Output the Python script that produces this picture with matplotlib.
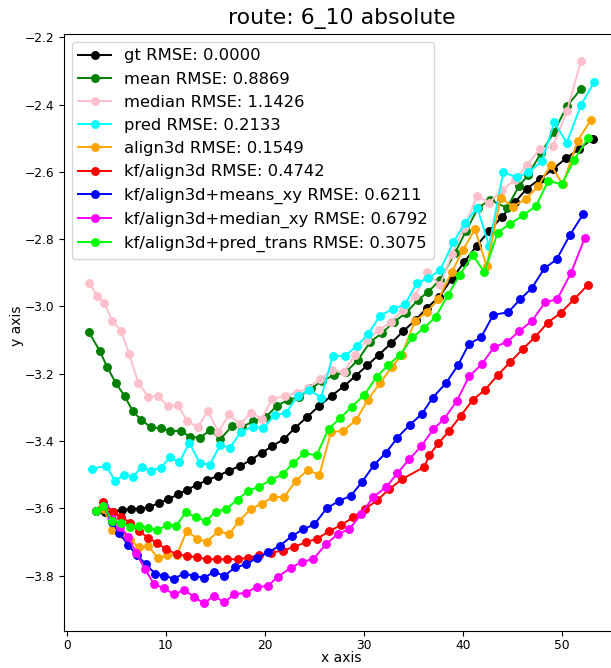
import matplotlib
matplotlib.use("Agg")
import matplotlib.pyplot as plt

names = ["gt", "mean", "median", "pred", "align3d", "kf/align3d",
         "kf/align3d+means_xy", "kf/align3d+median_xy", "kf/align3d+pred_trans"]
rmse = [0.0000, 0.8869, 1.1426, 0.2133, 0.1549, 0.4742, 0.6211, 0.6792, 0.3075]
colors = ["black", "green", "pink", "cyan", "orange", "red", "blue", "magenta", "lime"]

gt_x = [2.96, 3.87, 4.65, 5.56, 6.49, 7.40, 8.34, 9.29, 10.26, 11.21, 12.15, 13.19, 14.14, 15.31, 16.42,
        17.51, 18.59, 19.70, 20.77, 21.95, 23.06, 24.30, 25.52, 26.77, 28.01, 29.19, 30.36, 31.55, 32.79,
        34.00, 35.25, 36.36, 37.64, 38.89, 40.16, 41.41, 42.66, 43.94, 45.28, 46.46, 47.81, 49.09, 50.43,
        51.78, 53.13]
gt_y = [-3.607, -3.610, -3.610, -3.605, -3.602, -3.601, -3.597, -3.584, -3.573, -3.559, -3.545, -3.530,
        -3.517, -3.503, -3.488, -3.474, -3.457, -3.435, -3.415, -3.394, -3.361, -3.328, -3.295, -3.265,
        -3.237, -3.206, -3.175, -3.143, -3.109, -3.073, -3.040, -3.005, -2.971, -2.918, -2.868, -2.819,
        -2.776, -2.734, -2.690, -2.650, -2.621, -2.592, -2.560, -2.531, -2.501]

mean_x = [2.25, 3.33, 4.10, 4.95, 5.86, 6.67, 7.54, 8.52, 9.49, 10.46, 11.52, 12.48, 13.49, 14.51, 15.52,
          16.67, 17.68, 18.85, 20.13, 21.21, 22.35, 23.46, 24.68, 25.79, 27.00, 28.21, 29.42, 30.64, 31.85,
          33.06, 34.27, 35.48, 36.49, 37.71, 39.22, 40.33, 41.55, 42.76, 44.47, 45.69, 46.60, 47.91, 49.22,
          50.54, 51.95]
mean_y = [-3.077, -3.132, -3.181, -3.227, -3.267, -3.311, -3.338, -3.359, -3.362, -3.370, -3.370, -3.388,
          -3.390, -3.367, -3.395, -3.356, -3.358, -3.342, -3.328, -3.296, -3.278, -3.269, -3.243, -3.222,
          -3.204, -3.195, -3.159, -3.106, -3.079, -3.046, -3.019, -2.981, -2.957, -2.921, -2.841, -2.776,
          -2.707, -2.683, -2.707, -2.642, -2.609, -2.544, -2.481, -2.404, -2.353]

median_x = [2.25, 3.09, 3.80, 4.61, 5.49, 6.32, 7.23, 8.21, 9.19, 10.20, 11.21, 12.18, 13.23, 14.27, 15.31,
            16.42, 17.51, 18.62, 19.70, 20.74, 22.05, 23.26, 24.37, 25.59, 26.80, 28.01, 29.12, 30.33, 31.55,
            32.76, 33.97, 35.18, 36.39, 37.70, 38.92, 40.13, 41.44, 42.66, 43.97, 45.28, 46.49, 47.81, 49.12,
            50.53, 51.95]
median_y = [-2.931, -2.968, -2.991, -3.043, -3.072, -3.142, -3.227, -3.268, -3.266, -3.296, -3.293, -3.341,
            -3.359, -3.311, -3.373, -3.321, -3.350, -3.316, -3.334, -3.275, -3.266, -3.257, -3.243, -3.216,
            -3.189, -3.195, -3.144, -3.100, -3.070, -3.046, -3.011, -2.969, -2.898, -2.936, -2.844, -2.767,
            -2.671, -2.692, -2.654, -2.624, -2.579, -2.532, -2.523, -2.419, -2.270]

pred_x = [2.53, 3.97, 4.88, 5.79, 6.67, 7.58, 8.48, 9.49, 10.43, 11.37, 12.38, 13.46, 14.47, 15.48, 16.49,
          17.61, 18.79, 19.86, 21.04, 22.15, 23.33, 24.51, 25.69, 26.87, 28.11, 29.29, 30.46, 31.65, 32.93,
          34.17, 35.35, 36.53, 37.71, 39.05, 40.23, 41.47, 42.66, 44.10, 45.45, 46.63, 47.98, 49.25, 50.51,
          51.95, 53.29]
pred_y = [-3.483, -3.474, -3.518, -3.501, -3.506, -3.478, -3.488, -3.480, -3.449, -3.463, -3.406, -3.466,
          -3.470, -3.412, -3.420, -3.372, -3.358, -3.361, -3.323, -3.316, -3.266, -3.248, -3.271, -3.147,
          -3.147, -3.118, -3.082, -3.027, -3.008, -2.994, -2.931, -2.916, -2.892, -2.809, -2.753, -2.706,
          -2.820, -2.601, -2.616, -2.601, -2.569, -2.453, -2.513, -2.401, -2.332]

align_x = [2.96, 3.77, 4.61, 5.56, 6.39, 7.30, 8.24, 9.25, 10.16, 11.11, 12.12, 13.19, 14.14, 15.31, 16.42,
           17.43, 18.59, 19.70, 20.84, 21.98, 23.16, 24.34, 25.52, 26.70, 27.94, 29.22, 30.40, 31.65, 32.83,
           33.84, 35.18, 36.36, 37.54, 38.89, 40.03, 41.24, 42.42, 43.84, 45.05, 46.36, 47.64, 48.89, 50.10,
           51.62, 52.96]
align_y = [-3.608, -3.602, -3.665, -3.675, -3.693, -3.716, -3.713, -3.749, -3.739, -3.739, -3.668, -3.690,
           -3.700, -3.668, -3.677, -3.637, -3.602, -3.586, -3.567, -3.566, -3.518, -3.486, -3.501, -3.373,
           -3.370, -3.338, -3.278, -3.228, -3.180, -3.144, -3.043, -3.017, -2.979, -2.898, -2.832, -2.770,
           -2.880, -2.677, -2.703, -2.681, -2.642, -2.579, -2.637, -2.507, -2.445]

kf_x = [2.96, 3.70, 4.65, 5.48, 6.39, 7.30, 8.18, 9.15, 10.03, 11.11, 12.12, 13.13, 14.14, 15.15, 16.16,
        17.33, 18.34, 19.45, 20.59, 21.82, 22.96, 24.14, 25.31, 26.53, 27.71, 28.95, 30.13, 31.37, 32.55,
        33.84, 36.12, 36.63, 37.54, 38.65, 39.80, 41.01, 42.25, 43.54, 44.78, 46.06, 47.33, 48.59, 49.90,
        51.24, 52.63]
kf_y = [-3.608, -3.582, -3.610, -3.625, -3.643, -3.668, -3.687, -3.704, -3.721, -3.737, -3.741, -3.746,
        -3.751, -3.752, -3.752, -3.751, -3.747, -3.739, -3.732, -3.726, -3.715, -3.701, -3.690, -3.668,
        -3.650, -3.627, -3.602, -3.576, -3.544, -3.514, -3.477, -3.442, -3.407, -3.369, -3.325, -3.278,
        -3.248, -3.204, -3.166, -3.127, -3.090, -3.048, -3.019, -2.979, -2.936]

means_xy_x = [2.96, 3.72, 4.55, 5.31, 6.22, 7.07, 7.98, 8.92, 9.86, 10.84, 11.85, 12.86, 13.87, 14.88, 15.92,
              17.00, 18.11, 19.25, 20.36, 21.55, 22.73, 23.84, 25.01, 26.26, 27.51, 28.69, 29.80, 31.07, 32.25,
              33.41, 34.68, 35.86, 36.97, 38.31, 39.53, 40.64, 41.85, 43.09, 44.61, 45.79, 46.97, 48.24, 49.49,
              50.84, 52.18]
means_xy_y = [-3.608, -3.594, -3.640, -3.673, -3.710, -3.739, -3.766, -3.794, -3.801, -3.809, -3.794, -3.801,
              -3.807, -3.789, -3.801, -3.776, -3.767, -3.747, -3.731, -3.711, -3.683, -3.663, -3.648, -3.600,
              -3.578, -3.563, -3.523, -3.470, -3.435, -3.390, -3.351, -3.320, -3.271, -3.228, -3.174, -3.111,
              -3.092, -3.025, -3.017, -2.979, -2.946, -2.887, -2.860, -2.787, -2.725]

median_xy_x = [2.96, 3.72, 4.55, 5.38, 6.22, 7.00, 7.91, 8.85, 9.83, 10.84, 11.85, 12.86, 13.87, 14.88, 15.89,
               16.93, 18.11, 19.19, 20.30, 21.37, 22.63, 23.80, 24.91, 26.19, 27.37, 28.55, 29.73, 30.97, 32.25,
               33.39, 34.61, 35.82, 37.03, 38.11, 39.42, 40.64, 41.92, 43.16, 44.51, 45.72, 47.03, 48.31, 49.56,
               50.94, 52.35]
median_xy_y = [-3.608, -3.594, -3.633, -3.655, -3.685, -3.732, -3.782, -3.826, -3.838, -3.856, -3.843, -3.863,
               -3.883, -3.860, -3.880, -3.856, -3.851, -3.834, -3.831, -3.803, -3.777, -3.759, -3.751, -3.707,
               -3.677, -3.662, -3.618, -3.566, -3.538, -3.496, -3.454, -3.415, -3.365, -3.335, -3.280, -3.208,
               -3.172, -3.121, -3.105, -3.073, -3.042, -2.988, -2.978, -2.900, -2.795]

pred_trans_x = [2.96, 3.70, 4.61, 5.48, 6.39, 7.30, 8.24, 9.15, 10.10, 11.04, 12.05, 13.06, 14.04, 15.05, 16.06,
                17.27, 18.34, 19.45, 20.59, 21.82, 22.89, 24.00, 25.25, 26.46, 27.61, 28.79, 30.06, 31.31, 32.48,
                33.67, 34.91, 36.09, 37.27, 38.52, 39.73, 41.01, 42.18, 43.52, 44.78, 46.12, 47.40, 48.65, 50.00,
                51.27, 52.69]
pred_trans_y = [-3.607, -3.594, -3.637, -3.643, -3.655, -3.653, -3.658, -3.665, -3.650, -3.652, -3.612, -3.627,
                -3.638, -3.610, -3.603, -3.574, -3.548, -3.536, -3.516, -3.499, -3.465, -3.437, -3.442, -3.363,
                -3.333, -3.298, -3.263, -3.209, -3.174, -3.144, -3.092, -3.064, -3.031, -2.965, -2.905, -2.847,
                -2.898, -2.781, -2.754, -2.729, -2.701, -2.626, -2.637, -2.564, -2.498]

series_x = [gt_x, mean_x, median_x, pred_x, align_x, kf_x, means_xy_x, median_xy_x, pred_trans_x]
series_y = [gt_y, mean_y, median_y, pred_y, align_y, kf_y, means_xy_y, median_xy_y, pred_trans_y]

fig = plt.figure(figsize=(6.11, 6.68), dpi=100)
ax = fig.add_axes([0.1043, 0.056, 0.9097, 0.8934])

for name, r, c, xs, ys in zip(names, rmse, colors, series_x, series_y):
    ax.plot(xs, ys, marker="o", linestyle="-", color=c, markersize=5.4, linewidth=1.4,
            label=f"{name} RMSE: {r:.4f}")

ax.set_title("route: 6_10 absolute", fontsize=15.8, pad=7)
ax.set_xlabel("x axis", fontsize=10)
ax.set_ylabel("y axis", fontsize=10)
ax.xaxis.label.set_va("center")
ax.yaxis.label.set_va("center")
ax.xaxis.set_label_coords(0.5, -0.046)
ax.yaxis.set_label_coords(-0.084, 0.51)
ax.tick_params(labelsize=8.8)
ax.tick_params(axis="x", pad=2.5)
ax.legend(loc="upper left", fontsize=11.75)

fig.savefig("out.png", dpi=100)
